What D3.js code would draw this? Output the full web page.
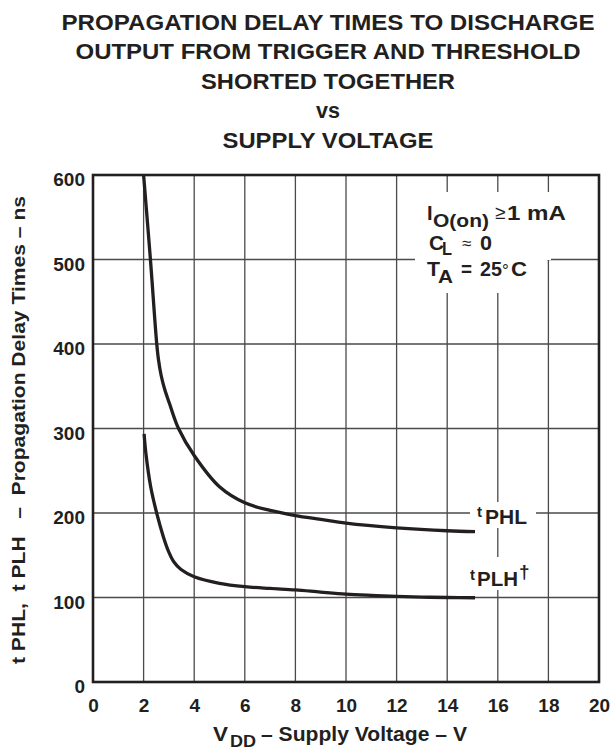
<!DOCTYPE html>
<html>
<head>
<meta charset="utf-8">
<script src="https://cdn.jsdelivr.net/npm/d3@7"></script>
<style>
  html, body { margin: 0; padding: 0; background: #ffffff; }
  svg text { font-family: "Liberation Sans", Arial, Helvetica, sans-serif; font-weight: bold; fill: #231f20; }
</style>
</head>
<body>
<svg id="chart" width="611" height="750"></svg>
<script>
// ---- data ----
const titleLines = ["PROPAGATION DELAY TIMES TO DISCHARGE", "OUTPUT FROM TRIGGER AND THRESHOLD", "SHORTED TOGETHER", "vs", "SUPPLY VOLTAGE"];
const xTicks = [0, 2, 4, 6, 8, 10, 12, 14, 16, 18, 20];
const yTicks = [0, 100, 200, 300, 400, 500, 600];

// tPHL series: supply voltage (V), delay (ns)
const tphlV  = [2.0, 2.27, 2.52, 2.59, 2.69, 2.83, 3.02, 3.38, 4.0, 5.0, 6.0, 7.0, 8.0, 9.0, 10, 12, 14, 15.1];
const tphlNs = [600, 500, 400, 381, 363.3, 346.7, 329.8, 300, 268, 231, 212, 203, 197, 192.5, 188, 182.5, 179, 178];

// tPLH series
const tplhV  = [2.02, 2.09, 2.28, 2.52, 2.78, 2.98, 3.2, 3.48, 4.0, 5.0, 6.0, 7.0, 8.0, 9.0, 10, 11, 12, 13, 14, 15.1];
const tplhNs = [293.5, 270.7, 231, 199.6, 172, 155, 142, 133.1, 124.6, 116.8, 112.8, 110.7, 109, 106.4, 104, 102.5, 101.3, 100.5, 100, 99.7];

// ---- layout ----
const svg = d3.select("#chart");
const ink = "#231f20";
const M = { left: 93, right: 599, top: 175, bottom: 682 };
const titleWidths = [533, 505, 254, 24, 211];

const x = d3.scaleLinear().domain([0, 20]).range([M.left, M.right]);
const y = d3.scaleLinear().domain([0, 600]).range([M.bottom, M.top]);

// title
svg.append("g").selectAll("text").data(titleLines).join("text")
  .attr("x", (d, i) => 328 - titleWidths[i] / 2)
  .attr("y", (d, i) => 29.5 + i * 29.6)
  .attr("textLength", (d, i) => titleWidths[i])
  .attr("lengthAdjust", "spacingAndGlyphs")
  .style("font-size", "22px")
  .text(d => d);

// grid
const grid = svg.append("g");
grid.selectAll("line.v").data(xTicks.slice(1, -1)).join("line")
  .attr("class", "v")
  .attr("x1", d => x(d)).attr("x2", d => x(d))
  .attr("y1", M.top).attr("y2", M.bottom)
  .attr("stroke", "#4a4a4a").attr("stroke-width", 1.3);
grid.selectAll("line.h").data(yTicks.slice(1, -1)).join("line")
  .attr("class", "h")
  .attr("x1", M.left).attr("x2", M.right)
  .attr("y1", d => y(d)).attr("y2", d => y(d))
  .attr("stroke", "#4a4a4a").attr("stroke-width", 1.3);

// white knockouts behind labels
const knock = [
  [415, 192, 547, 293],
  [546, 192, 551, 260],
  [470, 502, 536, 528],
  [465, 557, 535, 590]
];
svg.append("g").selectAll("rect").data(knock).join("rect")
  .attr("x", d => d[0]).attr("y", d => d[1])
  .attr("width", d => d[2] - d[0]).attr("height", d => d[3] - d[1])
  .attr("fill", "#ffffff");

// axes (tick labels only, frame drawn separately)
const xAxis = svg.append("g").attr("transform", `translate(0,${M.bottom})`)
  .call(d3.axisBottom(x).tickValues(xTicks).tickSize(0).tickPadding(0).tickFormat(d3.format("d")));
xAxis.select(".domain").remove();
xAxis.selectAll("text").attr("dy", null).attr("y", 29.5)
  .style("font-size", "19px").style("font-family", "Liberation Sans, Arial, sans-serif").style("font-weight", "bold").attr("fill", ink);

const yAxis = svg.append("g").attr("transform", `translate(${M.left},0)`)
  .call(d3.axisLeft(y).tickValues(yTicks).tickSize(0).tickPadding(0).tickFormat(d3.format("d")));
yAxis.select(".domain").remove();
yAxis.selectAll("text").attr("dy", null).attr("x", -8).attr("y", 10.5)
  .style("font-size", "19px").style("font-family", "Liberation Sans, Arial, sans-serif").style("font-weight", "bold").attr("fill", ink);

// frame
svg.append("rect")
  .attr("x", M.left).attr("y", M.top)
  .attr("width", M.right - M.left).attr("height", M.bottom - M.top)
  .attr("fill", "none").attr("stroke", ink).attr("stroke-width", 2.6);

// curves
const line = d3.line().x(d => x(d[0])).y(d => y(d[1])).curve(d3.curveCatmullRom.alpha(0.5));
const series = [d3.zip(tphlV, tphlNs), d3.zip(tplhV, tplhNs)];
svg.append("g").selectAll("path").data(series).join("path")
  .attr("d", line)
  .attr("fill", "none").attr("stroke", ink).attr("stroke-width", 3.3)
  .attr("stroke-linecap", "butt");

// text helper
function t(g, xx, yy, size, str, len, weight) {
  const el = g.append("text").attr("x", xx).attr("y", yy).style("font-size", size + "px")
    .style("font-weight", weight || "bold").text(str);
  if (len) el.attr("textLength", len).attr("lengthAdjust", "spacingAndGlyphs");
  return el;
}

// annotation block
const ann = svg.append("g");
t(ann, 427, 220, 20, "I");
t(ann, 433, 227, 18, "O(on)", 56);
t(ann, 495, 219, 19, "≥", null, "normal");
t(ann, 507, 220, 20, "1 mA", 59);
t(ann, 429, 250, 20, "C", 15);
t(ann, 442, 254.5, 18, "L", 10);
t(ann, 462, 249, 17, "≈", null, "normal");
t(ann, 480, 250, 20, "0", 12);
t(ann, 427, 276, 20, "T", 13);
t(ann, 438, 282.5, 19, "A", 15);
t(ann, 461, 276, 20, "=", 11);
t(ann, 480, 276, 20, "25", 22);
t(ann, 502, 276, 17, "°", null, "normal");
t(ann, 511, 276, 20, "C", 16);

// series labels
t(svg, 477, 517, 15, "t");
t(svg, 485, 524, 20, "PHL", 42);
t(svg, 470, 580, 15, "t");
t(svg, 477, 586, 20, "PLH", 41);
t(svg, 519, 578, 19, "†");

// x axis title
t(svg, 213, 741, 20, "V", 15);
t(svg, 230, 746.5, 17, "DD", 26);
t(svg, 261, 741, 20, "– Supply Voltage – V", 206);

// y axis title
svg.append("text")
  .attr("transform", "translate(25,430) rotate(-90)")
  .attr("x", -234)
  .attr("textLength", 468)
  .attr("lengthAdjust", "spacingAndGlyphs")
  .style("font-size", "19px")
  .attr("xml:space", "preserve")
  .text("t PHL,  t PLH   –  Propagation Delay Times – ns");
</script>
</body>
</html>
